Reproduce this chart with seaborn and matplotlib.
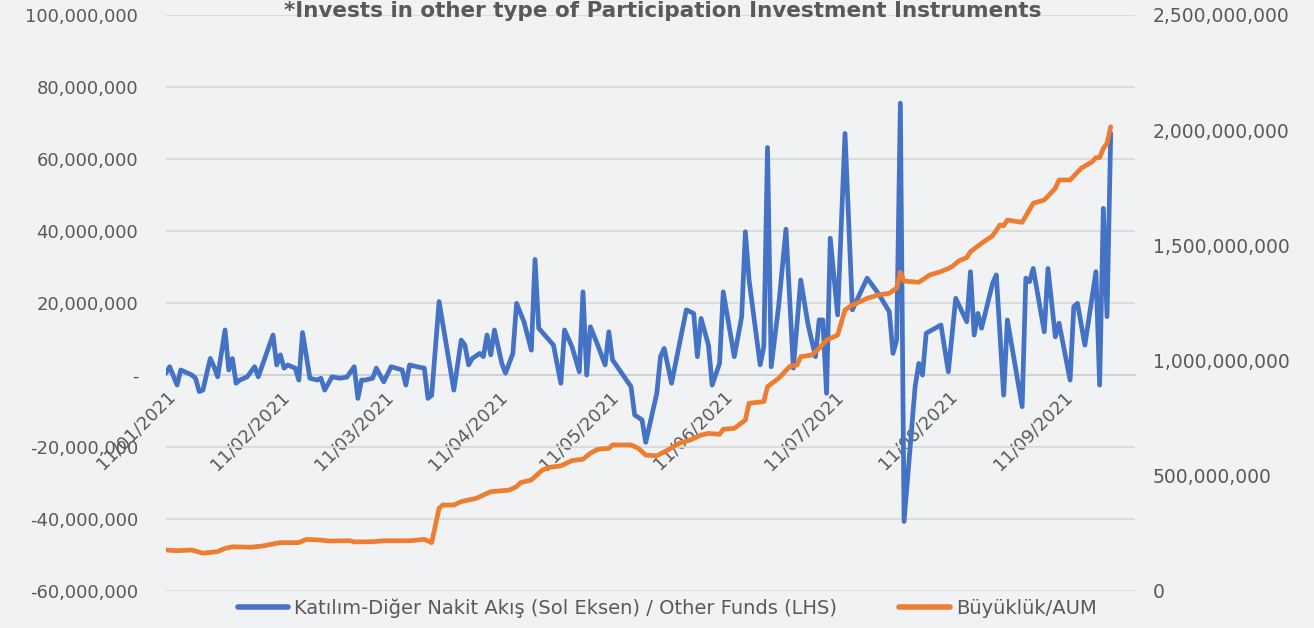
import matplotlib
matplotlib.use('Agg')
import matplotlib.pyplot as plt
import matplotlib.dates as mdates
from matplotlib.ticker import FuncFormatter, MultipleLocator
from matplotlib.lines import Line2D
import pandas as pd
import seaborn as sns

# Blue series: net flow, millions (left axis)
flow_dates = [
    '2021-01-11', '2021-01-12', '2021-01-14', '2021-01-15', '2021-01-18', '2021-01-19', '2021-01-20',
    '2021-01-21', '2021-01-23', '2021-01-24', '2021-01-25', '2021-01-27', '2021-01-28', '2021-01-29',
    '2021-01-30', '2021-01-31', '2021-02-02', '2021-02-04', '2021-02-05', '2021-02-09', '2021-02-10',
    '2021-02-11', '2021-02-12', '2021-02-13', '2021-02-15', '2021-02-16', '2021-02-17', '2021-02-19',
    '2021-02-21', '2021-02-22', '2021-02-23', '2021-02-25', '2021-02-27', '2021-03-01', '2021-03-03',
    '2021-03-04', '2021-03-05', '2021-03-06', '2021-03-08', '2021-03-09', '2021-03-11', '2021-03-13',
    '2021-03-16', '2021-03-17', '2021-03-18', '2021-03-20', '2021-03-22', '2021-03-23', '2021-03-24',
    '2021-03-26', '2021-03-30', '2021-04-01', '2021-04-02', '2021-04-03', '2021-04-04', '2021-04-06',
    '2021-04-07', '2021-04-08', '2021-04-09', '2021-04-10', '2021-04-12', '2021-04-13', '2021-04-15',
    '2021-04-16', '2021-04-18', '2021-04-20', '2021-04-21', '2021-04-22', '2021-04-26', '2021-04-28',
    '2021-04-29', '2021-05-01', '2021-05-03', '2021-05-04', '2021-05-05', '2021-05-06', '2021-05-08',
    '2021-05-10', '2021-05-11', '2021-05-12', '2021-05-17', '2021-05-18', '2021-05-20', '2021-05-21',
    '2021-05-24', '2021-05-25', '2021-05-26', '2021-05-28', '2021-05-30', '2021-06-01', '2021-06-03',
    '2021-06-04', '2021-06-05', '2021-06-07', '2021-06-08', '2021-06-10', '2021-06-11', '2021-06-14',
    '2021-06-16', '2021-06-17', '2021-06-18', '2021-06-21', '2021-06-22', '2021-06-23', '2021-06-24',
    '2021-06-26', '2021-06-28', '2021-06-30', '2021-07-02', '2021-07-04', '2021-07-06', '2021-07-07',
    '2021-07-08', '2021-07-09', '2021-07-10', '2021-07-12', '2021-07-14', '2021-07-16', '2021-07-20',
    '2021-07-23', '2021-07-26', '2021-07-27', '2021-07-28', '2021-07-29', '2021-07-30', '2021-08-02',
    '2021-08-03', '2021-08-04', '2021-08-05', '2021-08-09', '2021-08-11', '2021-08-13', '2021-08-16',
    '2021-08-17', '2021-08-18', '2021-08-19', '2021-08-20', '2021-08-23', '2021-08-24', '2021-08-26',
    '2021-08-27', '2021-08-31', '2021-09-01', '2021-09-02', '2021-09-03', '2021-09-06', '2021-09-07',
    '2021-09-09', '2021-09-10', '2021-09-13', '2021-09-14', '2021-09-15', '2021-09-17', '2021-09-20',
    '2021-09-21', '2021-09-22', '2021-09-23', '2021-09-24',
]
flow_m = [
    0.5, 2.3, -2.8, 1.4, 0.0, -0.9, -4.6,
    -4.2, 4.6, 2.3, -0.5, 12.5, 1.4, 4.6,
    -2.3, -1.4, -0.5, 2.3, -0.5, 11.1, 2.8,
    5.6, 1.9, 2.8, 1.9, -1.4, 11.8, -0.9,
    -1.4, -0.9, -4.2, -0.5, -0.9, -0.6, 2.3,
    -6.5, -1.4, -1.4, -0.9, 1.9, -1.9, 2.3,
    1.4, -2.8, 2.8, 2.3, 1.9, -6.5, -5.6,
    20.4, -4.2, 9.7, 8.3, 2.8, 4.6, 6.0,
    5.1, 11.1, 5.6, 12.5, 3.2, 0.5, 6.0,
    19.9, 14.8, 6.9, 32.1, 13.0, 8.3, -2.3,
    12.5, 7.9, 0.9, 23.1, 0.0, 13.4, 8.3,
    2.8, 12.0, 4.2, -3.2, -11.1, -12.5, -18.7,
    -5.1, 5.1, 7.4, -2.3, 7.9, 18.1, 17.1,
    5.1, 15.7, 8.3, -2.8, 3.2, 23.1, 5.1,
    16.2, 39.8, 26.4, 2.8, 7.9, 63.2, 2.3,
    19.0, 40.5, 1.9, 26.4, 13.9, 5.1, 15.3,
    15.3, -5.1, 38.0, 16.7, 67.1, 18.1, 26.9,
    22.7, 17.6, 6.0, 9.7, 75.5, -40.7, -3.2,
    3.2, 0.0, 11.6, 13.9, 0.9, 21.3, 14.8,
    28.7, 11.1, 17.1, 13.0, 25.5, 27.8, -5.6,
    15.3, -8.8, 26.9, 25.9, 29.6, 12.0, 29.6,
    10.6, 14.4, -1.4, 19.0, 19.9, 8.3, 28.7,
    -2.8, 46.3, 16.2, 67.1,
]

# Orange series: assets under management, millions (right axis)
aum_dates = [
    '2021-01-11', '2021-01-14', '2021-01-18', '2021-01-21', '2021-01-25', '2021-01-27', '2021-01-29',
    '2021-02-03', '2021-02-06', '2021-02-11', '2021-02-16', '2021-02-18', '2021-02-22', '2021-02-24',
    '2021-03-02', '2021-03-03', '2021-03-08', '2021-03-11', '2021-03-18', '2021-03-22', '2021-03-24',
    '2021-03-26', '2021-03-27', '2021-03-30', '2021-04-01', '2021-04-05', '2021-04-09', '2021-04-14',
    '2021-04-16', '2021-04-17', '2021-04-20', '2021-04-23', '2021-04-25', '2021-04-28', '2021-05-01',
    '2021-05-04', '2021-05-06', '2021-05-08', '2021-05-11', '2021-05-12', '2021-05-17', '2021-05-19',
    '2021-05-21', '2021-05-24', '2021-05-27', '2021-05-30', '2021-06-02', '2021-06-05', '2021-06-07',
    '2021-06-10', '2021-06-11', '2021-06-14', '2021-06-17', '2021-06-18', '2021-06-22', '2021-06-23',
    '2021-06-26', '2021-06-29', '2021-07-01', '2021-07-02', '2021-07-05', '2021-07-07', '2021-07-09',
    '2021-07-12', '2021-07-14', '2021-07-16', '2021-07-20', '2021-07-23', '2021-07-26', '2021-07-28',
    '2021-07-29', '2021-07-30', '2021-08-03', '2021-08-06', '2021-08-09', '2021-08-11', '2021-08-12',
    '2021-08-14', '2021-08-16', '2021-08-17', '2021-08-20', '2021-08-23', '2021-08-25', '2021-08-26',
    '2021-08-27', '2021-08-31', '2021-09-03', '2021-09-06', '2021-09-09', '2021-09-10', '2021-09-13',
    '2021-09-16', '2021-09-19', '2021-09-20', '2021-09-21', '2021-09-22', '2021-09-23', '2021-09-24',
]
aum_m = [
    178, 175, 178, 164, 171, 185, 192,
    190, 195, 210, 210, 224, 221, 217,
    218, 213, 214, 218, 218, 224, 210,
    359, 373, 373, 388, 402, 431, 438,
    453, 470, 482, 525, 537, 543, 566,
    572, 598, 615, 619, 634, 634, 619,
    590, 587, 612, 641, 655, 677, 684,
    680, 702, 706, 742, 815, 822, 887,
    923, 974, 981, 1017, 1024, 1053, 1089,
    1111, 1220, 1241, 1270, 1285, 1292, 1315,
    1384, 1345, 1340, 1372, 1386, 1400, 1408,
    1434, 1447, 1473, 1509, 1542, 1589, 1585,
    1610, 1600, 1683, 1697, 1748, 1784, 1784,
    1835, 1863, 1881, 1881, 1921, 1943, 2015,
]

title = '*Invests in other type of Participation Investment Instruments'
flow_label = 'Katılım-Diğer Nakit Akış (Sol Eksen) / Other Funds (LHS)'
aum_label = 'Büyüklük/AUM'

blue = '#4472c4'
orange = '#ed7d31'
grey = '#595959'

flow_df = pd.DataFrame({'date': pd.to_datetime(flow_dates), 'value': [v * 1e6 for v in flow_m]})
aum_df = pd.DataFrame({'date': pd.to_datetime(aum_dates), 'value': [v * 1e6 for v in aum_m]})

sns.set_style('white')
plt.rcParams['font.family'] = ['DejaVu Sans']

fig = plt.figure(figsize=(13.14, 6.28), dpi=100, facecolor='#f1f2f4')
ax = fig.add_axes([166 / 1314, 1 - 591 / 628, (1135 - 166) / 1314, 576 / 628])
ax.set_facecolor('none')
ax2 = ax.twinx()

sns.lineplot(data=flow_df, x='date', y='value', ax=ax, color=blue, linewidth=3.4, zorder=3)
sns.lineplot(data=aum_df, x='date', y='value', ax=ax2, color=orange, linewidth=3.4, zorder=3)

ax.set_ylim(-60e6, 100e6)
ax.yaxis.set_major_locator(MultipleLocator(20e6))
ax.yaxis.set_major_formatter(FuncFormatter(lambda v, p: '-' if v == 0 else f'{v:,.0f}'))
ax2.set_ylim(0, 2.5e9)
ax2.yaxis.set_major_locator(MultipleLocator(500e6))
ax2.yaxis.set_major_formatter(FuncFormatter(lambda v, p: f'{v:,.0f}'))

ax.set_xlim(pd.Timestamp('2021-01-11'), pd.Timestamp('2021-09-30 14:00'))
ax.xaxis.set_major_locator(mdates.MonthLocator(bymonthday=11))
ax.xaxis.set_major_formatter(mdates.DateFormatter('%d/%m/%Y'))

ax.grid(axis='y', color='#d9d9d9', linewidth=1.3)
ax.grid(axis='x', visible=False)
ax2.grid(False)
for a in (ax, ax2):
    for s in a.spines.values():
        s.set_visible(False)
ax.spines['bottom'].set_visible(True)
ax.spines['bottom'].set_position(('data', 0))
ax.spines['bottom'].set_color('#d0d0d0')
ax.spines['bottom'].set_linewidth(1.3)

ax.set_xlabel('')
ax.set_ylabel('')
ax2.set_ylabel('')
ax.tick_params(axis='y', length=0, pad=20, labelsize=13, labelcolor=grey)
ax2.tick_params(axis='y', length=0, pad=13, labelsize=13.5, labelcolor=grey)
ax.tick_params(axis='x', length=5, color='#d0d0d0', width=1.3, pad=4, labelsize=13, labelcolor=grey)
for lbl in ax.get_xticklabels():
    lbl.set_rotation(45)
    lbl.set_ha('right')
    lbl.set_va('top')
    lbl.set_rotation_mode('anchor')

fig.text(663 / 1314, 1 - 17 / 628, title, ha='center', va='baseline', fontsize=15.5, fontweight='bold',
         color=grey, family=['Liberation Sans Narrow', 'DejaVu Sans'])

handles = [Line2D([], [], color=blue, linewidth=4), Line2D([], [], color=orange, linewidth=4)]
fig.legend(handles, [flow_label, aum_label], loc='center', bbox_to_anchor=(667 / 1314, 20 / 628),
           ncol=2, frameon=False, fontsize=14, labelcolor=grey, handlelength=2.6,
           handletextpad=0.3, columnspacing=3.2)

plt.savefig('out.png', dpi=100, facecolor=fig.get_facecolor())
